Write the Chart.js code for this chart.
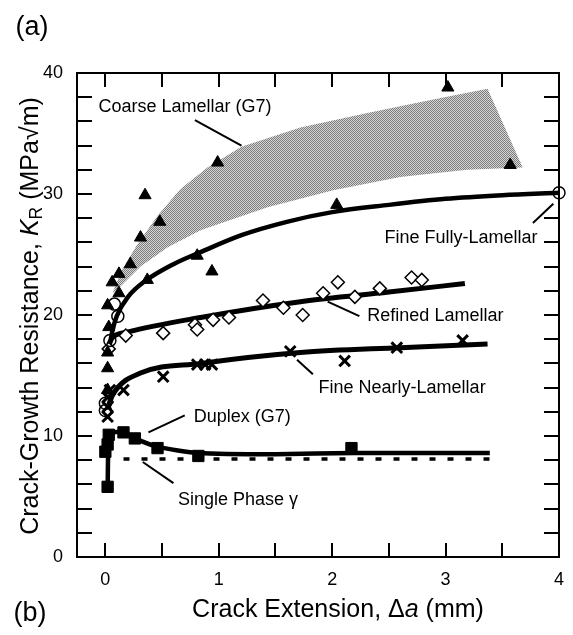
<!DOCTYPE html>
<html>
<head>
<meta charset="utf-8">
<script src="https://cdn.jsdelivr.net/npm/chart.js@4.4.1/dist/chart.umd.min.js"></script>
<style>
  body { margin: 0; background: #fff; }
  #wrap { position: relative; width: 573px; height: 635px; font-family: 'Liberation Sans', Arial, sans-serif; color: #000; }
  canvas { position: absolute; left: 0; top: 0; }
  .lbl { position: absolute; white-space: nowrap; transform: translate(-50%, -50%); }
  #ytit { transform: translate(-50%, -50%) rotate(-90deg); }
  sub { font-size: 70%; vertical-align: -0.25em; line-height: 0; }
</style>
</head>
<body>
<div id="wrap">
  <canvas id="grafico" width="573" height="635"></canvas>
  <div class="lbl" style="left:32px; top:26px; font-size:27px;">(a)</div>
  <div class="lbl" style="left:30px; top:612px; font-size:27px;">(b)</div>
  <div class="lbl" id="xtit" style="left:338px; top:608px; font-size:25px;">Crack Extension, Δ<i>a</i> (mm)</div>
  <div class="lbl" id="ytit" style="left:29px; top:316px; font-size:25px;">Crack-Growth Resistance, <i>K</i><sub>R</sub> (MPa√m)</div>
</div>
<script>
// shaded band, Coarse Lamellar (G7): upper edge then lower edge back
const bandUpX = [0.07, 0.15, 0.28, 0.46, 0.66, 0.90, 1.20, 1.72, 2.31, 2.89, 3.37]
const bandUpY = [22.0, 23.8, 25.8, 28.2, 30.4, 32.2, 33.9, 35.5, 36.7, 37.8, 38.7]
const bandLowX = [3.68, 3.19, 2.60, 2.01, 1.43, 0.84, 0.55, 0.31, 0.16, 0.07]
const bandLowY = [32.2, 32.0, 31.4, 30.3, 28.9, 27.0, 25.6, 24.0, 22.6, 21.8]

// Coarse Lamellar (G7) points
const triX = [0.02, 0.02, 0.02, 0.03, 0.02, 0.12, 0.06, 0.12, 0.22, 0.31, 0.48, 0.35, 0.37, 0.81, 0.94, 0.99, 2.04, 3.02, 3.57]
const triY = [13.8, 15.6, 16.9, 19.0, 20.8, 21.8, 22.7, 23.4, 24.2, 26.4, 27.7, 29.9, 22.9, 24.9, 23.6, 32.6, 29.1, 38.8, 32.4]

// Fine Fully-Lamellar
const fflX = [0.04, 0.06, 0.10, 0.20, 0.35, 0.60, 0.84, 1.20, 1.60, 2.00, 2.50, 3.00, 3.50, 4.00]
const fflY = [17.6, 18.6, 19.9, 21.5, 22.8, 24.2, 25.2, 26.6, 27.7, 28.5, 29.1, 29.6, 29.9, 30.1]
const circX = [0.00, 0.00, 0.04, 0.11, 0.08, 4.00]
const circY = [12.1, 12.7, 17.9, 19.9, 20.9, 30.1]

// Refined Lamellar
const refX = [0.03, 0.07, 0.20, 0.84, 1.72, 2.50, 3.17]
const refY = [17.6, 18.2, 18.6, 19.8, 21.1, 21.9, 22.6]
const diaX = [0.03, 0.18, 0.51, 0.79, 0.81, 0.95, 1.09, 1.39, 1.57, 1.74, 1.92, 2.05, 2.20, 2.42, 2.70, 2.79]
const diaY = [17.2, 18.3, 18.5, 19.2, 18.8, 19.6, 19.8, 21.2, 20.6, 20.0, 21.8, 22.7, 21.5, 22.2, 23.1, 22.9]

// Fine Nearly-Lamellar
const fnlX = [0.03, 0.07, 0.31, 0.84, 1.72, 2.60, 3.37]
const fnlY = [12.6, 13.5, 15.2, 16.0, 16.9, 17.3, 17.6]
const crzX = [0.02, 0.02, 0.02, 0.04, 0.16, 0.51, 0.81, 0.88, 0.94, 1.63, 2.11, 2.57, 3.15]
const crzY = [11.6, 12.4, 13.2, 13.8, 13.8, 14.9, 15.9, 15.9, 15.9, 17.0, 16.2, 17.3, 17.9]

// Duplex (G7)
const dupX = [0.02, 0.04, 0.16, 0.26, 0.46, 0.82, 1.50, 2.20, 3.39]
const dupY = [5.8, 10.2, 10.3, 9.8, 9.1, 8.6, 8.5, 8.6, 8.6]
const sqX = [0.02, 0.03, 0.02, 0.00, 0.16, 0.26, 0.46, 0.82, 2.17]
const sqY = [5.8, 10.1, 9.3, 8.7, 10.3, 9.8, 9.0, 8.35, 9.0]

// Single Phase gamma
const gamX = [0.16, 3.40]
const gamY = [8.1, 8.1]

// labels with leader lines (data units)
const notas = [
    { txt: 'Coarse Lamellar (G7)', x: -0.06, y: 37.2, align: 'left', lx: [0.79, 1.20], ly: [36.1, 34.0] },
    { txt: 'Fine Fully-Lamellar', x: 3.81, y: 26.4, align: 'right', lx: [3.77, 3.95], ly: [27.6, 29.2] },
    { txt: 'Refined Lamellar', x: 2.31, y: 19.9, align: 'left', lx: [1.96, 2.24], ly: [21.1, 19.9] },
    { txt: 'Fine Nearly-Lamellar', x: 1.88, y: 14.0, align: 'left', lx: [1.69, 1.83], ly: [16.3, 15.1] },
    { txt: 'Duplex (G7)', x: 0.78, y: 11.6, align: 'left', lx: [0.38, 0.70], ly: [10.3, 11.7] },
    { txt: 'Single Phase γ', x: 0.64, y: 4.7, align: 'left', lx: [0.33, 0.60], ly: [7.85, 6.1] }
]

const FONTE = "'Liberation Sans', Arial, sans-serif"

function pares(xs, ys) {
    return xs.map((v, i) => ({ x: v, y: ys[i] }))
}

// halftone-like grey for the band
function trama() {
    const c = document.createElement('canvas')
    c.width = 2
    c.height = 2
    const g = c.getContext('2d')
    g.fillStyle = '#d6d6d6'
    g.fillRect(0, 0, 2, 2)
    g.fillStyle = '#7c7c7c'
    g.fillRect(0, 0, 1, 1)
    g.fillRect(1, 1, 1, 1)
    return g.createPattern(c, 'repeat')
}

function curva(xs, ys, extra) {
    return Object.assign({
        data: pares(xs, ys),
        showLine: true,
        borderColor: '#000',
        borderWidth: 4.5,
        pointRadius: 0,
        cubicInterpolationMode: 'monotone',
        order: 5
    }, extra || {})
}

function pontos(xs, ys, estilo, extra) {
    return Object.assign({
        data: pares(xs, ys),
        showLine: false,
        pointStyle: estilo,
        pointRadius: 7,
        pointBackgroundColor: '#000',
        pointBorderColor: '#000',
        pointBorderWidth: 1,
        order: 0,
        clip: false
    }, extra || {})
}

// leader lines + labels, then the frame with inward ticks on all four sides
const moldura = {
    id: 'moldura',
    afterDatasetsDraw(chart) {
        const { ctx, scales: { x, y } } = chart
        ctx.save()
        ctx.strokeStyle = '#000'
        ctx.lineWidth = 2
        notas.forEach(n => {
            ctx.beginPath()
            ctx.moveTo(x.getPixelForValue(n.lx[0]), y.getPixelForValue(n.ly[0]))
            ctx.lineTo(x.getPixelForValue(n.lx[1]), y.getPixelForValue(n.ly[1]))
            ctx.stroke()
        })
        ctx.fillStyle = '#000'
        ctx.font = '18px ' + FONTE
        ctx.textBaseline = 'middle'
        notas.forEach(n => {
            ctx.textAlign = n.align
            ctx.fillText(n.txt, x.getPixelForValue(n.x), y.getPixelForValue(n.y))
        })
        ctx.restore()
    },
    afterDraw(chart) {
        const { ctx, chartArea: a, scales: { x, y } } = chart
        ctx.save()
        ctx.strokeStyle = '#000'
        ctx.lineWidth = 2
        ctx.strokeRect(a.left, a.top, a.right - a.left, a.bottom - a.top)
        ctx.beginPath()
        x.ticks.forEach(t => {
            const px = Math.round(x.getPixelForValue(t.value))
            if (px <= a.left + 2 || px >= a.right - 2) return
            ctx.moveTo(px, a.bottom); ctx.lineTo(px, a.bottom - 14)
            ctx.moveTo(px, a.top); ctx.lineTo(px, a.top + 14)
        })
        y.ticks.forEach(t => {
            const py = Math.round(y.getPixelForValue(t.value))
            if (py <= a.top + 2 || py >= a.bottom - 2) return
            ctx.moveTo(a.left, py); ctx.lineTo(a.left + 15, py)
            ctx.moveTo(a.right, py); ctx.lineTo(a.right - 15, py)
        })
        ctx.stroke()
        ctx.restore()
    }
}

function criarGraf() {
    const ctx = document.getElementById('grafico').getContext('2d')

    new Chart(ctx, {
        type: 'scatter',
        data: {
            datasets: [
                pontos(triX, triY, 'triangle'),
                pontos(circX, circY, 'circle', { pointRadius: 6, pointBackgroundColor: 'rgba(0,0,0,0)', pointBorderWidth: 1.5 }),
                pontos(diaX, diaY, 'rectRot', { pointRadius: 6.5, pointBackgroundColor: '#fff', pointBorderWidth: 1.5 }),
                pontos(crzX, crzY, 'crossRot', { pointRadius: 7.5, pointBorderWidth: 3 }),
                pontos(sqX, sqY, 'rect', { pointRadius: 8 }),
                curva(fflX, fflY),
                curva(refX, refY, { borderWidth: 5 }),
                curva(fnlX, fnlY, { borderWidth: 5 }),
                curva(dupX, dupY, { cubicInterpolationMode: 'default', tension: 0.2 }),
                curva(gamX, gamY, { borderWidth: 3.5, borderDash: [6, 12], cubicInterpolationMode: 'default' }),
                {
                    data: pares(bandUpX.concat(bandLowX), bandUpY.concat(bandLowY)),
                    showLine: true,
                    borderWidth: 0,
                    borderColor: 'rgba(0,0,0,0)',
                    pointRadius: 0,
                    backgroundColor: trama(),
                    fill: 'shape',
                    order: 10
                }
            ]
        },
        options: {
            responsive: false,
            animation: false,
            events: [],
            layout: { padding: { left: 0, top: 73, right: 14, bottom: 0 } },
            plugins: {
                legend: { display: false },
                tooltip: { enabled: false }
            },
            scales: {
                x: {
                    type: 'linear',
                    min: -0.25,
                    max: 4,
                    grid: { display: false },
                    border: { display: false },
                    afterFit: s => { s.height = 78 },
                    ticks: {
                        stepSize: 0.5,
                        includeBounds: false,
                        autoSkip: false,
                        maxRotation: 0,
                        padding: 4,
                        color: '#000',
                        font: { family: FONTE, size: 18 },
                        callback: v => Math.abs(v - Math.round(v)) < 1e-6 ? String(Math.round(v)) : ''
                    }
                },
                y: {
                    min: 0,
                    max: 40,
                    grid: { display: false },
                    border: { display: false },
                    afterFit: s => { s.width = 77 },
                    ticks: {
                        stepSize: 2,
                        autoSkip: false,
                        padding: 6,
                        color: '#000',
                        font: { family: FONTE, size: 18 },
                        callback: v => Math.abs(v % 10) < 1e-6 ? String(Math.round(v)) : ''
                    }
                }
            }
        },
        plugins: [moldura]
    })
}

criarGraf()
</script>
</body>
</html>
